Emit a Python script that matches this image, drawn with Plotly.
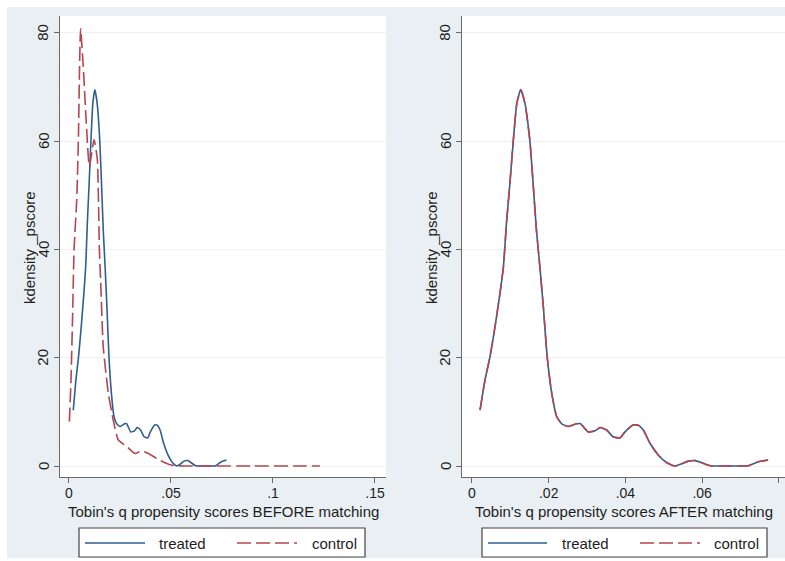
import plotly.graph_objects as go

W, H = 785, 561

# ---------------- data ----------------
series_names = ["treated", "control"]

# treated group kernel density (same sample before and after matching)
treated_x = [0.0021, 0.0034, 0.0047, 0.0060, 0.0073, 0.0082, 0.0090, 0.0099, 0.0108,
             0.0117, 0.0127, 0.0138, 0.0151, 0.0160, 0.0168, 0.0177, 0.0186, 0.0196,
             0.0208, 0.0221, 0.0234, 0.0251, 0.0273, 0.0283, 0.0303, 0.0321, 0.0334,
             0.0351, 0.0368, 0.0386, 0.0399, 0.0421, 0.0434, 0.0447, 0.0464, 0.0486,
             0.0508, 0.0529, 0.0547, 0.0564, 0.0582, 0.0599, 0.0621, 0.0669, 0.0720,
             0.0747, 0.0764, 0.0772]
treated_y = [10.3, 15.9, 20.2, 25.7, 31.9, 36.8, 44.9, 52.3, 60.3,
             67.0, 69.5, 67.0, 60.0, 51.6, 43.6, 36.8, 29.4, 20.2,
             13.4, 9.1, 7.8, 7.3, 7.8, 7.8, 6.3, 6.5, 7.1,
             6.65, 5.4, 5.2, 6.3, 7.6, 7.5, 6.6, 4.2, 2.0,
             0.6, 0.0, 0.4, 0.9, 1.0, 0.6, 0.05, 0.0, 0.05,
             0.8, 1.0, 1.1]

# control group kernel density before matching
control_before_x = [0.0002, 0.0010, 0.0018, 0.0025, 0.0038, 0.0046, 0.0052, 0.0057,
                    0.0070, 0.0083, 0.0100, 0.0123, 0.0139, 0.0149, 0.0155, 0.0168,
                    0.0193, 0.0217, 0.0242, 0.0283, 0.0324, 0.0356, 0.0389, 0.0430,
                    0.0470, 0.0511, 0.0570, 0.0700, 0.0900, 0.1100, 0.1230]
control_before_y = [8.2, 15.9, 28.2, 40.0, 49.2, 60.0, 73.8, 80.8,
                    73.8, 64.6, 55.3, 60.3, 56.6, 40.0, 34.4, 22.0,
                    13.4, 8.5, 4.8, 3.6, 2.3, 2.8, 2.3, 1.4,
                    0.6, 0.1, 0.0, 0.0, 0.0, 0.0, 0.0]

# control group after matching (coincides with treated)
control_after_x = list(treated_x)
control_after_y = list(treated_y)

x_titles = ["Tobin's q propensity scores BEFORE matching",
            "Tobin's q propensity scores AFTER matching"]
y_title = "kdensity _pscore"
y_tickvals = [0, 20, 40, 60, 80]
y_ticktext = ["0", "20", "40", "60", "80"]
x_tickvals_before = [0, 0.05, 0.1, 0.15]
x_ticktext_before = ["0", ".05", ".1", ".15"]
x_tickvals_after = [0, 0.02, 0.04, 0.06, 0.08]
x_ticktext_after = ["0", ".02", ".04", ".06", ".08"]

# ---------------- styling ----------------
FONT = "Liberation Sans, Arial, Helvetica, sans-serif"
BG = "#E9EFF2"
BLUE = "#2F5F90"
RED = "#B5464F"
AXC = "#6A6A6A"
GRID = "#EDF1F3"
TXT = "#1E1E1E"


def fx(p):
    return p / W


def fy(p):
    return 1 - p / H


fig = go.Figure()

panels = [
    ("x", "y", treated_x, treated_y, control_before_x, control_before_y),
    ("x2", "y2", treated_x, treated_y, control_after_x, control_after_y),
]
for xa, ya, tx, ty, cx, cy in panels:
    fig.add_trace(go.Scatter(x=tx, y=ty, xaxis=xa, yaxis=ya, mode="lines",
                             name=series_names[0], showlegend=False,
                             line=dict(color=BLUE, width=1.6, shape="spline", smoothing=0.5)))
    fig.add_trace(go.Scatter(x=cx, y=cy, xaxis=xa, yaxis=ya, mode="lines",
                             name=series_names[1], showlegend=False,
                             line=dict(color=RED, width=1.6, dash="14px,5px",
                                       shape="spline", smoothing=0.5)))

common_x = dict(showgrid=False, zeroline=False, showline=True, linecolor=AXC, linewidth=1.3,
                ticks="outside", ticklen=5, tickcolor=AXC, tickwidth=1.2,
                tickfont=dict(family=FONT, size=14, color=TXT), ticklabelstandoff=-2)
common_y = dict(showgrid=True, gridcolor=GRID, gridwidth=1, zeroline=False, showline=True,
                linecolor=AXC, linewidth=1.3, ticks="outside", ticklen=5, tickcolor=AXC,
                tickwidth=1.2, showticklabels=False,
                tickvals=y_tickvals, range=[-2.03, 83.1],
                domain=[1 - 477 / H, 1 - 16 / H])

fig.update_layout(
    width=W, height=H,
    margin=dict(l=0, r=0, t=0, b=0),
    paper_bgcolor=BG, plot_bgcolor="white",
    font=dict(family=FONT, color=TXT),
    showlegend=False,
    xaxis=dict(common_x, domain=[60 / W, 386 / W], range=[-0.0044, 0.1554],
               tickvals=x_tickvals_before, ticktext=x_ticktext_before, anchor="y"),
    yaxis=dict(common_y, anchor="x"),
    xaxis2=dict(common_x, domain=[462 / W, 1.0], range=[-0.0026, 0.0816],
                tickvals=x_tickvals_after, ticktext=x_ticktext_after, anchor="y2"),
    yaxis2=dict(common_y, anchor="x2"),
)

shapes = []
annotations = []

# white outer border strips
for x0, x1, y0, y1 in [(0, 7, 0, H), (0, W, 0, 7), (0, W, 558, H)]:
    shapes.append(dict(type="rect", xref="paper", yref="paper",
                       x0=fx(x0), x1=fx(x1), y0=fy(y1), y1=fy(y0),
                       fillcolor="white", line=dict(width=0), layer="above"))

# rotated y tick labels (Stata style), placed on the y scale
for yref, lab_x in [("y", 43), ("y2", 445)]:
    for v, t in zip(y_tickvals, y_ticktext):
        annotations.append(dict(xref="paper", yref=yref, x=fx(lab_x), y=v, text=t,
                                showarrow=False, textangle=-90, xanchor="center",
                                yanchor="middle", font=dict(family=FONT, size=15, color=TXT)))

# axis titles
for cx_title, ytitle_x, title in [(223, 29, x_titles[0]), (624, 431, x_titles[1])]:
    annotations.append(dict(xref="paper", yref="paper", x=fx(cx_title), y=fy(511),
                            text=title, showarrow=False, xanchor="center", yanchor="middle",
                            font=dict(family=FONT, size=15, color=TXT)))
    annotations.append(dict(xref="paper", yref="paper", x=fx(ytitle_x), y=fy(248),
                            text=y_title, showarrow=False, textangle=-90,
                            xanchor="center", yanchor="middle",
                            font=dict(family=FONT, size=15, color=TXT)))

# legends (one per panel)
legend_boxes = [
    dict(box=(79, 365), t=(85, 145), tt=157, c=(237, 297), ct=310),
    dict(box=(482, 767), t=(488, 547), tt=560, c=(640, 700), ct=712),
]
ly0, ly1, lyc = 528, 557, 543
for lb in legend_boxes:
    shapes.append(dict(type="rect", xref="paper", yref="paper",
                       x0=fx(lb["box"][0]), x1=fx(lb["box"][1]), y0=fy(ly1), y1=fy(ly0),
                       fillcolor="white", line=dict(color="#444444", width=1.2), layer="above"))
    shapes.append(dict(type="line", xref="paper", yref="paper",
                       x0=fx(lb["t"][0]), x1=fx(lb["t"][1]), y0=fy(lyc), y1=fy(lyc),
                       line=dict(color=BLUE, width=1.6), layer="above"))
    shapes.append(dict(type="line", xref="paper", yref="paper",
                       x0=fx(lb["c"][0]), x1=fx(lb["c"][1]), y0=fy(lyc), y1=fy(lyc),
                       line=dict(color=RED, width=1.6, dash="14px,5px"), layer="above"))
    annotations.append(dict(xref="paper", yref="paper", x=fx(lb["tt"]), y=fy(lyc),
                            text=series_names[0], showarrow=False, xanchor="left",
                            yanchor="middle", font=dict(family=FONT, size=15, color=TXT)))
    annotations.append(dict(xref="paper", yref="paper", x=fx(lb["ct"]), y=fy(lyc),
                            text=series_names[1], showarrow=False, xanchor="left",
                            yanchor="middle", font=dict(family=FONT, size=15, color=TXT)))

fig.update_layout(shapes=shapes, annotations=annotations)

fig.write_html("out.html")
